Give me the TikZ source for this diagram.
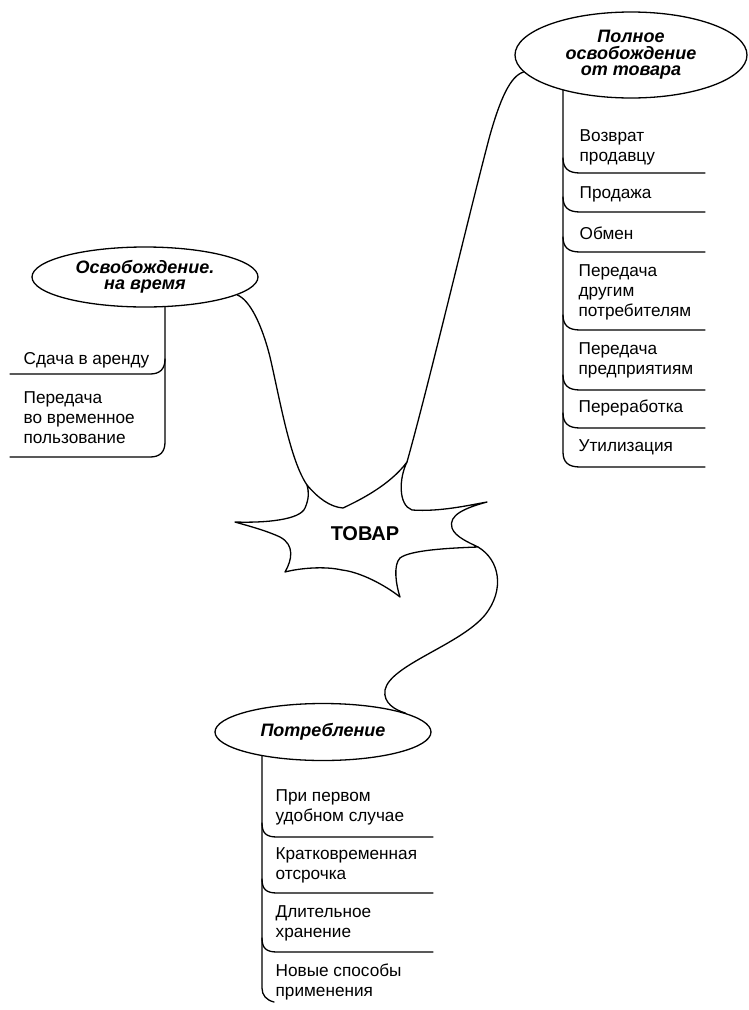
\documentclass[tikz,border=0pt]{standalone}
\usepackage{fontspec}
\setmainfont{Liberation Sans}
\usetikzlibrary{shapes.geometric}
\begin{document}
\begin{tikzpicture}[x=1pt,y=-1pt, line width=1.3pt, line join=round, line cap=round,
  item/.style={anchor=west, align=left, inner sep=0pt, font=\fontsize{17.2}{20}\selectfont},
  oval/.style={ellipse, draw, fill=white, inner sep=0pt, align=center, font=\fontsize{18}{16.5}\selectfont\bfseries\itshape}]
\useasboundingbox (0,0) rectangle (749,1010);

% ---------- right list ----------
\draw (563,60) -- (563,452) .. controls (563,462) and (568,467) .. (580,467) -- (705,467);
\foreach \y in {173,212,252,330,390,428}
  \draw (563,\y-15) .. controls (563,\y-5) and (568,\y) .. (580,\y) -- (705,\y);
\node[item] (r1) at (579,147) {Возврат\\продавцу};
\node[item] (r2) at (579,194) {Продажа};
\node[item] (r3) at (579,233) {Обмен};
\node[item] (r4) at (578,292) {Передача\\другим\\потребителям};
\node[item] (r5) at (578,360) {Передача\\предприятиям};
\node[item] (r6) at (578,408) {Переработка};
\node[item] (r7) at (578,447) {Утилизация};

% ---------- left list ----------
\draw (165,280) -- (165,442) .. controls (165,452) and (160,457) .. (150,457) -- (10,457);
\draw (165,359) .. controls (165,369) and (160,374) .. (150,374) -- (10,374);
\node[item] (l1) at (23,360) {Сдача в аренду};
\node[item] (l2) at (23,418) {Передача\\во временное\\пользование};

% ---------- bottom list ----------
\draw (262,735) -- (262,988) .. controls (262,995) and (266,1000) .. (274,1002);
\foreach \y in {837,893,952}
  \draw (262,\y-14) .. controls (262,\y-4) and (266,\y) .. (277,\y) -- (433,\y);
\node[item] (b1) at (275,807) {При первом\\удобном случае};
\node[item] (b2) at (275,865) {Кратковременная\\отсрочка};
\node[item] (b3) at (275,923) {Длительное\\хранение};
\node[item] (b4) at (275,982) {Новые способы\\применения};

% ---------- ellipses ----------
\node[oval, minimum width=232pt, minimum height=86pt] (full) at (631,55) {Полное\\освобождение\\от товара};
\node[oval, minimum width=226pt, minimum height=60pt] (osv) at (145,277) {Освобождение.\\на время};
\node[oval, minimum width=216pt, minimum height=57pt] (potr) at (323,732) {Потребление};

% ---------- star ----------
\coordinate (sTL) at (307,485);
\coordinate (sTR) at (407,462);
\coordinate (sBR) at (478,547);
\draw (235,522) .. controls (265,523) and (300,520) .. (305,508)
  .. controls (309,499) and (309,492) .. (sTL)
  .. controls (318,498) and (330,507) .. (343,508)
  .. controls (360,500) and (390,485) .. (sTR)
  .. controls (399,478) and (398,505) .. (412,510)
  .. controls (440,512) and (470,505) .. (487,502)
  .. controls (465,508) and (448,515) .. (452,528)
  .. controls (455,537) and (470,543) .. (sBR)
  .. controls (450,548) and (410,550) .. (400,558)
  .. controls (393,565) and (396,585) .. (400,597)
  .. controls (385,585) and (360,572) .. (342,570)
  .. controls (325,566) and (300,568) .. (285,572)
  .. controls (292,560) and (295,545) .. (280,537)
  .. controls (265,530) and (245,525) .. cycle;
\node[font=\fontsize{20}{20}\selectfont\bfseries] (tovar) at (365,534) {ТОВАР};

% ---------- connectors ----------
\draw (full.189) .. controls (510,76) and (500,100) .. (490,135)
  .. controls (470,210) and (430,380) .. (sTR);
\draw (osv.-11) .. controls (250,300) and (262,325) .. (270,357)
  .. controls (280,400) and (290,460) .. (sTL);
\draw (sBR) .. controls (500,560) and (505,590) .. (485,615)
  .. controls (460,645) and (390,665) .. (385,690)
  .. controls (383,703) and (395,710) .. (potr.13);
\end{tikzpicture}
\end{document}
